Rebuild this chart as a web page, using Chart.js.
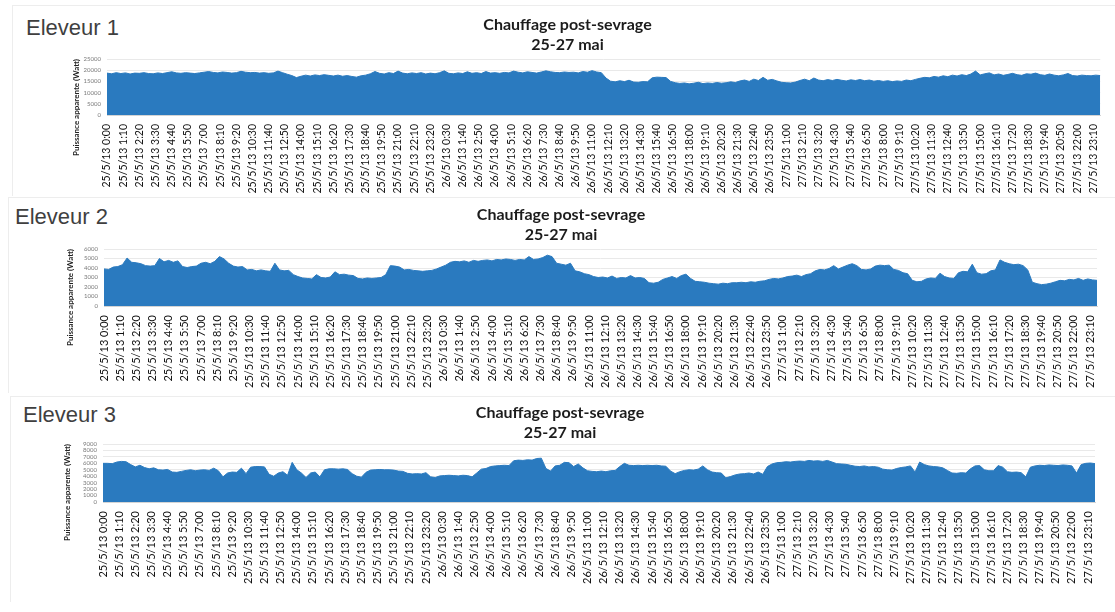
<!DOCTYPE html>
<html>
<head>
<meta charset="utf-8">
<script src="https://cdn.jsdelivr.net/npm/chart.js@4.4.1/dist/chart.umd.min.js"></script>
<style>
  html, body { margin: 0; padding: 0; background: #ffffff; }
  body { width: 1115px; height: 612px; position: relative; overflow: hidden; }
  .panel { position: absolute; border-top: 1px solid #ededed; border-left: 1px solid #ededed; }
  .heading { position: absolute; font-family: 'Liberation Sans', Arial, sans-serif; font-size: 22px; line-height: 22px; color: #3f3f3f; white-space: nowrap; }
  .box { position: absolute; }
</style>
</head>
<body>
<div class="panel" style="left:12px;top:5px;width:1103px;height:190px;"></div>
<div class="panel" style="left:8px;top:197px;width:1107px;height:195px;"></div>
<div class="panel" style="left:10px;top:396px;width:1105px;height:205px;"></div>

<div class="heading" style="left:26px;top:17px;">Eleveur 1</div>
<div class="heading" style="left:15px;top:206px;">Eleveur 2</div>
<div class="heading" style="left:23px;top:404px;">Eleveur 3</div>

<div class="box" style="left:25px;top:8px;"><canvas id="c1" width="1090" height="192"></canvas></div>
<div class="box" style="left:25px;top:196px;"><canvas id="c2" width="1090" height="196"></canvas></div>
<div class="box" style="left:25px;top:392px;"><canvas id="c3" width="1090" height="212"></canvas></div>

<script>
// Axis labels: one every 70 minutes from 25/5/13 0:00
const tickLabels = [
  '25/5/13 0:00','25/5/13 1:10','25/5/13 2:20','25/5/13 3:30','25/5/13 4:40','25/5/13 5:50','25/5/13 7:00',
  '25/5/13 8:10','25/5/13 9:20','25/5/13 10:30','25/5/13 11:40','25/5/13 12:50','25/5/13 14:00','25/5/13 15:10',
  '25/5/13 16:20','25/5/13 17:30','25/5/13 18:40','25/5/13 19:50','25/5/13 21:00','25/5/13 22:10','25/5/13 23:20',
  '26/5/13 0:30','26/5/13 1:40','26/5/13 2:50','26/5/13 4:00','26/5/13 5:10','26/5/13 6:20','26/5/13 7:30',
  '26/5/13 8:40','26/5/13 9:50','26/5/13 11:00','26/5/13 12:10','26/5/13 13:20','26/5/13 14:30','26/5/13 15:40',
  '26/5/13 16:50','26/5/13 18:00','26/5/13 19:10','26/5/13 20:20','26/5/13 21:30','26/5/13 22:40','26/5/13 23:50',
  '27/5/13 1:00','27/5/13 2:10','27/5/13 3:20','27/5/13 4:30','27/5/13 5:40','27/5/13 6:50','27/5/13 8:00',
  '27/5/13 9:10','27/5/13 10:20','27/5/13 11:30','27/5/13 12:40','27/5/13 13:50','27/5/13 15:00','27/5/13 16:10',
  '27/5/13 17:20','27/5/13 18:30','27/5/13 19:40','27/5/13 20:50','27/5/13 22:00','27/5/13 23:10'
];
const tickMinutes = tickLabels.map((_, k) => k * 70);

// Readings every 20 minutes, apparent power in W
const stepMinutes = 20;
const lastMinute = 4300;

const eleveur1 = [
  18700,18400,18900,18500,18800,18300,18700,18600,18900,18500,
  18400,18800,18500,18900,19300,18800,18600,18900,18700,18500,
  18800,19100,19400,19000,18800,19200,19000,18700,18900,19500,
  19100,18900,19000,18700,18900,18600,18800,19600,18900,18200,
  17600,16700,17300,17800,17400,17900,17600,18000,17700,17400,
  17800,17300,17600,17200,16900,17500,17800,18400,19400,18600,
  18300,18900,18500,19600,18700,18400,18800,18500,18900,18300,
  18700,18400,18900,19700,18600,18400,18800,18500,19300,18600,
  18900,18500,19400,18700,18900,18600,19000,18800,19600,19100,
  18800,19300,19000,18700,19200,19700,19300,19000,18900,19200,
  19000,19100,18800,19400,19100,19800,19200,18900,16500,15100,
  14800,15300,14900,15500,14700,14600,14900,14800,16600,16900,
  16800,16700,15000,14400,14100,14300,13900,14200,14600,14000,
  14300,14100,14500,14200,14400,14800,14500,15200,15600,15000,
  16000,15400,16800,15500,15900,15200,14600,14400,14300,14700,
  15400,16000,15300,16500,15600,15300,15800,15400,15900,15500,
  15200,15700,15400,15800,15300,15600,15100,15400,15000,15300,
  14900,15200,15000,15600,15300,15900,16400,16800,16600,17200,
  16900,17500,17100,17800,17400,18000,17600,18300,19600,17900,
  18400,18800,17900,18300,17700,18100,18600,18000,17700,18400,
  18200,18700,18000,17700,18300,17800,17500,17900,18500,17600,
  17400,17800,17600,17500,17800,17600
];

const eleveur2 = [
  3900,3850,4100,4150,4350,5050,4600,4550,4450,4250,
  4200,4250,5000,4650,4800,4600,4750,4150,4050,4150,
  4200,4500,4600,4450,4700,5200,4950,4500,4200,4100,
  4150,3800,3850,3700,3800,3700,3650,4500,3800,3700,
  3750,3300,3100,2950,2900,2850,3300,3000,2950,3050,
  3600,3300,3350,3250,3200,2900,2850,2950,2900,2950,
  3000,3300,4250,4200,4100,3800,3850,3750,3700,3650,
  3700,3750,3900,4100,4300,4600,4700,4650,4750,4600,
  4800,4700,4800,4850,4750,4900,4850,4950,4900,4800,
  4900,4850,5200,4900,4950,5100,5350,5200,4500,4400,
  4300,4500,3700,3600,3400,3300,3100,3000,3050,2950,
  3150,2900,3000,2950,3200,2950,3000,2900,2450,2400,
  2500,2800,2950,3100,2900,3200,3350,2900,2600,2550,
  2500,2400,2350,2300,2400,2350,2450,2450,2500,2450,
  2550,2500,2600,2650,2800,2900,2850,2950,3100,3150,
  3250,3100,3300,3400,3700,3850,3800,3950,4250,3900,
  4100,4300,4450,4250,3850,3800,3900,4200,4300,4250,
  4300,3850,3750,3500,3400,2700,2550,2600,2850,2950,
  2900,3450,3100,2950,2900,3500,3650,3600,4400,3500,
  3350,3400,3700,3800,4850,4600,4450,4350,4400,4250,
  3800,2500,2350,2250,2300,2400,2550,2700,2650,2800,
  2750,2900,2700,2850,2750,2700
];

const eleveur3 = [
  6000,6000,5950,6200,6300,6250,5800,5450,5700,5350,
  5150,5300,5000,4950,5050,4650,4600,4750,4900,5000,
  4850,4950,5000,4900,5250,4850,3900,4500,4650,4600,
  5250,4400,5400,5500,5500,5450,4300,4000,4500,4700,
  4150,6150,5000,4500,3800,4500,4650,3900,5000,5150,
  5150,5100,5150,5050,4400,4000,3850,4600,4950,5000,
  5050,5000,5000,4950,4800,4750,4450,4350,4400,4350,
  4550,3900,3800,4050,4100,4150,4100,4050,4150,4100,
  3900,4500,5100,5200,5500,5600,5650,5700,5650,6400,
  6500,6450,6550,6500,6750,6800,5200,4800,5600,5700,
  6150,6100,5500,5900,5300,4850,4750,4700,4800,4700,
  4850,4900,5500,6000,5700,5650,5700,5650,5700,5650,
  5700,5600,5550,4800,4400,4700,4900,5000,4950,5100,
  5600,5000,4650,4550,4500,3750,3950,4200,4350,4400,
  4500,4350,4650,4300,5500,5900,6100,6150,6250,6200,
  6300,6350,6300,6450,6350,6400,6300,6450,6200,5950,
  5900,5850,5700,5550,5500,5600,5450,5500,5400,5100,
  5000,4950,5200,5350,5450,5600,4650,6200,5800,5600,
  5500,5450,5300,4900,4500,4450,4550,4500,5150,5600,
  5650,5000,4850,4850,5650,5400,4700,4600,4650,4550,
  3900,5400,5600,5700,5650,5750,5700,5650,5750,5700,
  5600,4500,5800,6000,6050,5950
];

const yMaxima = [25000, 6000, 9000];
const ySteps = [5000, 1000, 1000];

const chartTitle = ['Chauffage post-sevrage', '25-27 mai'];
const yAxisTitle = 'Puissance apparente (Watt)';
const fillBlue = '#2a7abf';

function drawPanel(canvasId, values, yMax, yStep, g) {
  const points = values.map((v, i) => ({ x: i * stepMinutes, y: v }));
  return new Chart(document.getElementById(canvasId), {
    type: 'line',
    data: {
      datasets: [{
        data: points,
        fill: 'origin',
        backgroundColor: fillBlue,
        borderColor: fillBlue,
        borderWidth: 1,
        pointRadius: 0,
        tension: 0
      }]
    },
    options: {
      responsive: false,
      animation: false,
      parsing: false,
      layout: { padding: { left: 0, right: g.padRight, top: 0, bottom: 0 } },
      plugins: {
        legend: { display: false },
        tooltip: { enabled: false },
        title: {
          display: true,
          text: chartTitle,
          color: '#1c1c1c',
          font: { family: 'Lato', size: 16, weight: 'bold', lineHeight: 1.25 },
          padding: { top: g.titleTop, bottom: g.titleBottom }
        }
      },
      scales: {
        x: {
          type: 'linear',
          min: 0,
          max: lastMinute,
          afterBuildTicks: (scale) => { scale.ticks = tickMinutes.map(v => ({ value: v })); },
          afterFit: (scale) => { scale.height = g.xHeight; },
          grid: { display: false, drawTicks: false },
          border: { display: true, color: '#d4d4d4' },
          ticks: {
            autoSkip: false,
            minRotation: 90,
            maxRotation: 90,
            padding: 9,
            color: '#111111',
            font: { family: 'Lato', size: g.xFont },
            callback: (value, index) => tickLabels[index]
          }
        },
        y: {
          min: 0,
          max: yMax,
          afterFit: (scale) => { scale.width = g.yWidth; },
          grid: { color: '#e9e9e9', drawTicks: false },
          border: { display: false },
          ticks: {
            autoSkip: false,
            stepSize: yStep,
            padding: 6,
            color: '#7a7a7a',
            font: { family: 'Lato', size: 6 },
            callback: (value) => String(value)
          },
          title: {
            display: true,
            text: yAxisTitle,
            align: 'end',
            color: '#222222',
            font: { family: 'Lato', size: 8, weight: 'bold', lineHeight: 1.2 },
            padding: { top: g.yTitlePad, bottom: 0 }
          }
        }
      }
    }
  });
}

drawPanel('c1', eleveur1, yMaxima[0], ySteps[0],
  { padRight: 5, titleTop: 7, titleBottom: 4, xHeight: 85, yWidth: 82, yTitlePad: 47, xFont: 10.5 });
drawPanel('c2', eleveur2, yMaxima[1], ySteps[1],
  { padRight: 18, titleTop: 9, titleBottom: 4, xHeight: 86, yWidth: 79, yTitlePad: 41, xFont: 11 });
drawPanel('c3', eleveur3, yMaxima[2], ySteps[2],
  { padRight: 20, titleTop: 11, titleBottom: 1, xHeight: 102, yWidth: 78, yTitlePad: 38, xFont: 11 });
</script>
</body>
</html>
